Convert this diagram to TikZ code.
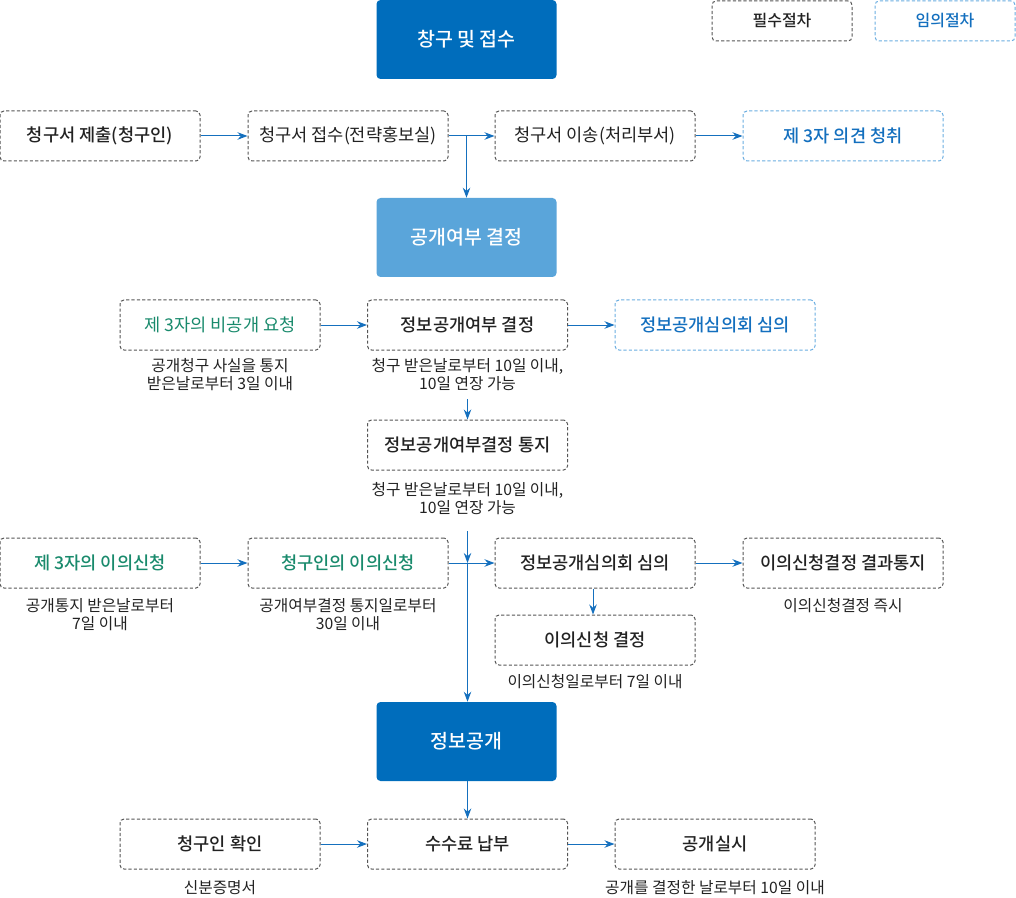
\documentclass[tikz,border=0pt]{standalone}
\usepackage{fontspec}
\setmainfont{Noto Sans CJK KR}[BoldFont={Noto Sans CJK KR Medium}]
\usetikzlibrary{arrows.meta}
\definecolor{dblue}{HTML}{006DBC}
\definecolor{lblue}{HTML}{5AA5DA}
\definecolor{arrblue}{HTML}{1570BE}
\definecolor{tblue}{HTML}{136FBE}
\definecolor{tgreen}{HTML}{198A6C}
\definecolor{bgray}{HTML}{555555}
\definecolor{bblue}{HTML}{6AADE0}
\definecolor{ntext}{HTML}{222222}
\begin{document}
\begin{tikzpicture}[x=0.75pt,y=-0.75pt,
  bigbox/.style={fill=#1, draw=none, rounded corners=3pt, minimum width=135pt, minimum height=59.25pt, inner sep=0pt, text=white, font=\bfseries\fontsize{14.6}{16}\selectfont},
  reqbox/.style={draw=bgray, line width=0.75pt, dash pattern=on 2.4pt off 1.6pt, rounded corners=3pt, minimum width=150pt, minimum height=37.5pt, inner sep=0pt, text=ntext, font=\bfseries\fontsize{13.2}{15}\selectfont},
  reqplain/.style={reqbox, font=\fontsize{13.2}{15}\selectfont},
  optbox/.style={reqbox, draw=bblue, text=tblue},
  grbox/.style={reqbox, text=tgreen},
  grplain/.style={reqplain, text=tgreen},
  legbox/.style={reqbox, minimum width=105pt, minimum height=30pt, font=\fontsize{12}{13}\selectfont\bfseries},
  note/.style={align=center, text=ntext, inner sep=0pt, font=\fontsize{11.8}{13.5}\selectfont},
  arr/.style={draw=arrblue, line width=0.75pt, -{Stealth[length=7.5pt,width=5.6pt]}}
]
\useasboundingbox (0,0) rectangle (1016,898);

% big boxes
\node[bigbox=dblue] (big1) at (466.5,39.5) {창구 및 접수};
\node[bigbox=lblue] (big2) at (466.5,237.5) {공개여부 결정};
\node[bigbox=dblue] (big3) at (466.5,741.5) {정보공개};

% legend
\node[legbox] (leg1) at (782,21) {필수절차};
\node[legbox, draw=bblue, text=tblue] (leg2) at (945,21) {임의절차};

% row 1
\node[reqbox] (r1a) at (100,136) {청구서 제출(청구인)};
\node[reqplain] (r1b) at (348,136) {청구서 접수(전략홍보실)};
\node[reqplain] (r1c) at (595,136) {청구서 이송(처리부서)};
\node[optbox] (r1d) at (843,136) {제 3자 의견 청취};
\draw[arr] (r1a) -- (r1b);
\draw[arr] (r1b) -- (r1c);
\draw[arr] (r1c) -- (r1d);
\draw[arr] (r1b.east -| big2.north) -- (big2.north);

% row 2
\node[grplain] (r2a) at (220,325) {제 3자의 비공개 요청};
\node[reqbox] (r2b) at (467.5,325) {정보공개여부 결정};
\node[optbox] (r2c) at (715,325) {정보공개심의회 심의};
\draw[arr] (r2a) -- (r2b);
\draw[arr] (r2b) -- (r2c);
\node[note] (n2a) at (220,375) {공개청구 사실을 통지\\받은날로부터 3일 이내};
\node[note] (n2b) at (467.5,375) {청구 받은날로부터 10일 이내,\\10일 연장 가능};

\node[reqbox] (r2n) at (467.5,445) {정보공개여부결정 통지};
\coordinate (c2) at (467.5,399);
\draw[arr] (c2) -- (r2n.north);
\node[note] (n2n) at (467.5,499) {청구 받은날로부터 10일 이내,\\10일 연장 가능};

% row 3
\node[grbox] (r3a) at (100,563) {제 3자의 이의신청};
\node[grbox] (r3b) at (348,563) {청구인의 이의신청};
\node[reqbox] (r3c) at (595,563) {정보공개심의회 심의};
\node[reqbox] (r3d) at (843,563) {이의신청결정 결과통지};
\draw[arr] (r3a) -- (r3b);
\draw[arr] (r3b) -- (r3c);
\draw[arr] (r3c) -- (r3d);
\coordinate (c3) at (467.5,531);
\coordinate (j3) at (c3 |- r3b.east);
\draw[arr] (c3) -- (j3);
\draw[arr] (j3) -- (j3 |- big3.north);
\node[note] (n3a) at (100,615) {공개통지 받은날로부터\\7일 이내};
\node[note] (n3b) at (348,615) {공개여부결정 통지일로부터\\30일 이내};
\node[note] (n3d) at (843,606) {이의신청결정 즉시};
\node[reqbox] (r3e) at (595,640) {이의신청 결정};
\draw[arr] (r3c.south -| 593,0) -- (r3e.north -| 593,0);
\node[note] (n3e) at (595,682) {이의신청일로부터 7일 이내};

% row 4
\node[reqbox] (r4a) at (220,844) {청구인 확인};
\node[reqbox] (r4b) at (467.5,844) {수수료 납부};
\node[reqbox] (r4c) at (715,844) {공개실시};
\draw[arr] (big3.south -| r4b.north) -- (r4b.north);
\draw[arr] (r4a) -- (r4b);
\draw[arr] (r4b) -- (r4c);
\node[note] (n4a) at (220,888) {신분증명서};
\node[note] (n4c) at (715,888) {공개를 결정한 날로부터 10일 이내};
\end{tikzpicture}
\end{document}
